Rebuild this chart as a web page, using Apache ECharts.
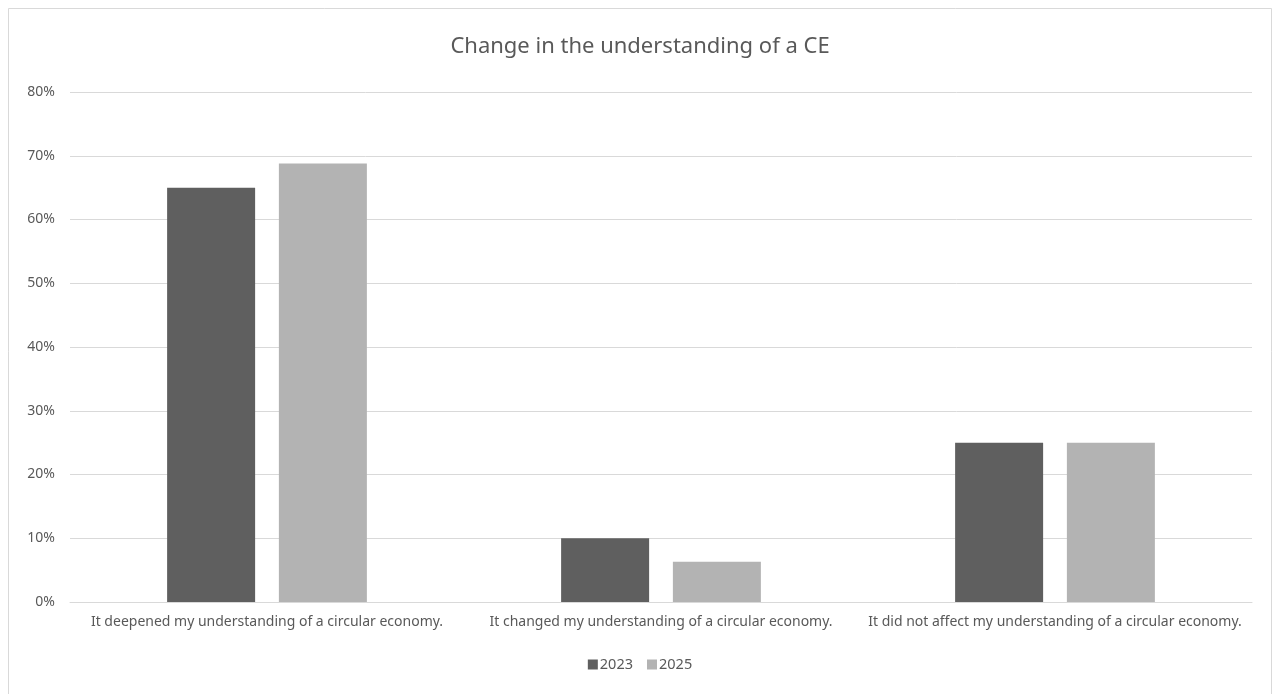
<!DOCTYPE html>
<html>
<head>
<meta charset="utf-8">
<script src="https://cdn.jsdelivr.net/npm/echarts@6/dist/echarts.min.js"></script>
<style>
  html, body { margin: 0; padding: 0; background: #fff; }
  #main { width: 1280px; height: 694px; }
</style>
</head>
<body>
<div id="main"></div>
<script>
var categories = [
  'It deepened my understanding of a circular economy.',
  'It changed my understanding of a circular economy.',
  'It did not affect my understanding of a circular economy.'
];
var values2023 = [65, 10, 25];
var values2025 = [68.8, 6.3, 25];
var yTicks = [0, 10, 20, 30, 40, 50, 60, 70, 80];

var chart = echarts.init(document.getElementById('main'));
var font = 'Noto Sans, sans-serif';
chart.setOption({
  backgroundColor: '#fff',
  textStyle: { fontFamily: font },
  graphic: [{
    type: 'rect',
    shape: { x: 8.5, y: 8.5, width: 1263, height: 690 },
    style: { fill: 'none', stroke: '#d9d9d9', lineWidth: 1 },
    silent: true
  }],
  title: {
    text: 'Change in the understanding of a CE',
    left: 'center',
    top: 31,
    textStyle: { fontFamily: font, fontSize: 22, fontWeight: 'normal', color: '#595959' }
  },
  legend: {
    bottom: 17,
    left: 'center',
    itemWidth: 10,
    itemHeight: 10,
    itemGap: 14,
    icon: 'rect',
    textStyle: { fontFamily: font, fontSize: 14.5, color: '#595959', padding: [0, 0, 0, -3] },
    data: ['2023', '2025']
  },
  grid: { left: 70, right: 28, top: 92, bottom: 92, containLabel: false },
  xAxis: {
    type: 'category',
    data: categories,
    axisLine: { show: true, lineStyle: { color: '#d9d9d9', width: 1 } },
    axisTick: { show: false },
    axisLabel: { color: '#595959', fontSize: 14, margin: 13, interval: 0 }
  },
  yAxis: {
    type: 'value',
    min: yTicks[0],
    max: yTicks[yTicks.length - 1],
    interval: 10,
    axisLine: { show: false },
    axisTick: { show: false },
    splitLine: { lineStyle: { color: '#d9d9d9', width: 1 } },
    axisLabel: { color: '#595959', fontSize: 14, margin: 15, formatter: '{value}%' }
  },
  series: [
    {
      name: '2023',
      type: 'bar',
      data: values2023,
      barWidth: 88,
      barGap: '27%',
      itemStyle: { color: '#5f5f5f' }
    },
    {
      name: '2025',
      type: 'bar',
      data: values2025,
      barWidth: 88,
      barGap: '27%',
      itemStyle: { color: '#b3b3b3' }
    }
  ]
});
</script>
</body>
</html>
